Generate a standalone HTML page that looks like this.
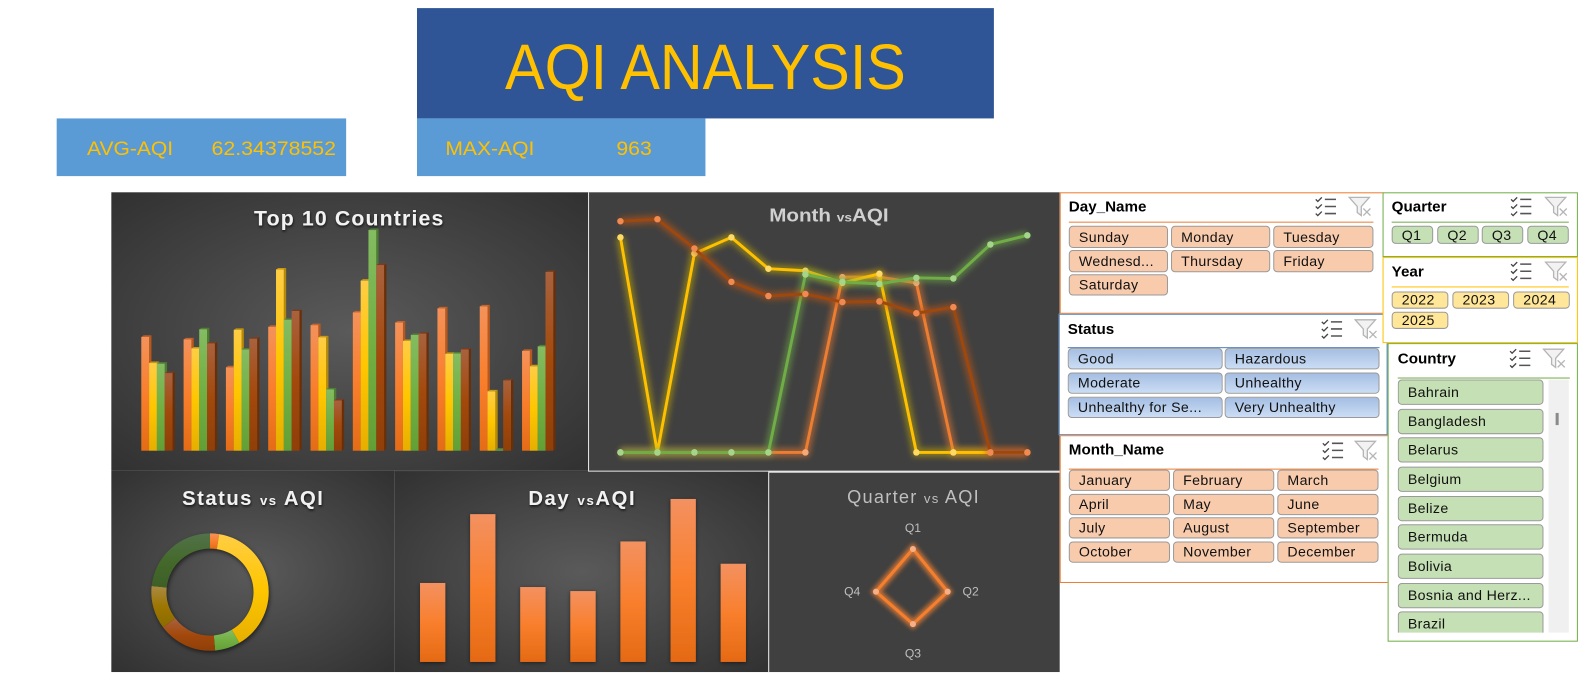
<!DOCTYPE html>
<html lang="en">
<head>
<meta charset="utf-8">
<title>AQI Analysis Dashboard</title>
<style>
html,body{margin:0;padding:0;background:#fff;width:1587px;height:682px;overflow:hidden;}
#root{position:relative;width:1568px;height:674px;overflow:hidden;background:#fff;font-family:"Liberation Sans",sans-serif;transform:scale(1.01212);transform-origin:0 0;}
#stage{position:absolute;left:0;top:0;}
.slicer{position:absolute;box-sizing:border-box;background:#fff;border:1px solid #ED7D31;}
.st{position:absolute;font-weight:bold;font-size:15px;line-height:16px;color:#000;white-space:nowrap;margin-top:1px;}
.ln{position:absolute;height:1px;}
.b{position:absolute;box-sizing:border-box;border:1px solid #9a9a9a;border-radius:4px;font-size:14px;letter-spacing:.35px;color:#111;padding-left:9px;white-space:nowrap;overflow:hidden;}
.o{background:#F8CBAD;}
.u{background:linear-gradient(#A5BEE2,#CBDDF5);}
.g{background:#C5E0B4;}
.y{background:#FFE699;}
.ic{position:absolute;width:24px;height:22px;}
</style>
</head>
<body>
<div id="root">
<svg id="stage" width="1568" height="674" viewBox="0 0 1568 674" xmlns="http://www.w3.org/2000/svg" font-family="'Liberation Sans',sans-serif">
  <defs id="defs">
    <radialGradient id="panelGrad" cx="50%" cy="50%" r="72%">
      <stop offset="0" stop-color="#5a5a5a"/><stop offset="1" stop-color="#303030"/>
    </radialGradient>
    <filter id="glow" x="0" y="0" width="1568" height="674" filterUnits="userSpaceOnUse"><feGaussianBlur stdDeviation="3"/></filter>
    <filter id="glowTight" x="0" y="0" width="1568" height="674" filterUnits="userSpaceOnUse"><feGaussianBlur stdDeviation="2"/></filter>
    <filter id="titleShadow" x="-10%" y="-30%" width="120%" height="170%"><feDropShadow dx="0.5" dy="1.5" stdDeviation="1.2" flood-color="#000" flood-opacity=".75"/></filter>
    <filter id="barShadow" x="-30%" y="-10%" width="160%" height="120%"><feDropShadow dx="0" dy="1" stdDeviation="2" flood-color="#000" flood-opacity=".5"/></filter>
  </defs>

  <rect x="412" y="8" width="570" height="109" fill="#2F5597"/>
  <text x="499" y="88" font-size="63" fill="#FFC000" textLength="396" lengthAdjust="spacingAndGlyphs">AQI ANALYSIS</text>

  <rect x="56" y="117" width="286" height="57" fill="#5B9BD5"/>
  <text x="86" y="153" font-size="19" fill="#FFC000" textLength="85" lengthAdjust="spacingAndGlyphs">AVG-AQI</text>
  <text x="209" y="153" font-size="19" fill="#FFC000" textLength="123" lengthAdjust="spacingAndGlyphs">62.34378552</text>

  <rect x="412" y="117" width="285" height="57" fill="#5B9BD5"/>
  <text x="440" y="153" font-size="19" fill="#FFC000" textLength="88" lengthAdjust="spacingAndGlyphs">MAX-AQI</text>
  <text x="609" y="153" font-size="19" fill="#FFC000" textLength="35" lengthAdjust="spacingAndGlyphs">963</text>

  <rect x="110" y="190" width="471" height="275" fill="url(#panelGrad)"/>
  <rect x="581" y="190" width="466" height="276" fill="#404040"/>
  <rect x="581" y="190" width="1" height="276" fill="#e6e6e6"/>
  <rect x="581" y="465" width="466" height="1.5" fill="#e6e6e6"/>
  <rect x="110" y="465" width="280" height="199" fill="url(#panelGrad)"/>
  <rect x="390" y="465" width="191" height="2" fill="#3a3a3a"/>
  <rect x="390" y="466" width="369" height="198" fill="url(#panelGrad)"/>
  <rect x="759" y="467" width="288" height="197" fill="#404040"/>
  <rect x="759" y="467" width="1" height="197" fill="#e6e6e6"/>

  <text x="251" y="223" font-size="21" font-weight="bold" fill="#f2f2f2" textLength="187" lengthAdjust="spacing" filter="url(#titleShadow)">Top 10 Countries</text>
  <text x="760" y="219" font-size="18" font-weight="bold" fill="#d0d0d0" textLength="118" lengthAdjust="spacingAndGlyphs">Month <tspan font-size="12">vs</tspan>AQI</text>
  <text x="180" y="499" font-size="20" font-weight="bold" fill="#f2f2f2" textLength="139" lengthAdjust="spacing" filter="url(#titleShadow)">Status <tspan font-size="13">vs</tspan> AQI</text>
  <text x="522" y="499" font-size="20" font-weight="bold" fill="#f2f2f2" textLength="105" lengthAdjust="spacing" filter="url(#titleShadow)">Day <tspan font-size="13">vs</tspan>AQI</text>
  <text x="837" y="497" font-size="18" fill="#bfbfbf" textLength="130" lengthAdjust="spacing">Quarter <tspan font-size="13">vs</tspan> AQI</text>

  <g id="countryChart"></g>
  <g id="monthChart"></g>
  <g id="statusChart"></g>
  <g id="dayChart"></g>
  <g id="quarterChart"></g>

  <symbol id="checkIcon" viewBox="0 0 24 22">
    <path d="M2 4l2 2 4-4M2 11l2 2 4-4M2 18l2 2 4-4" fill="none" stroke="#444" stroke-width="1.3"/>
    <path d="M11 4h11M11 11h11M11 18h11" stroke="#555" stroke-width="1.5"/>
  </symbol>
  <symbol id="filterIcon" viewBox="0 0 24 22">
    <path d="M1 2h20l-8 9v9l-4-3v-6z" fill="#f2f2f2" stroke="#b5b5b5" stroke-width="1.3"/>
    <path d="M15 13l7 7M22 13l-7 7" stroke="#b5b5b5" stroke-width="1.3"/>
  </symbol>
</svg>

<!-- Day_Name slicer -->
<div class="slicer" style="left:1047px;top:190px;width:320px;height:120px;border-color:#ED7D31"></div>
<div class="st" style="left:1056px;top:196px">Day_Name</div>
<div class="ln" style="left:1056px;top:219px;width:301px;background:#ED7D31"></div>
<svg class="ic" style="left:1298px;top:193px"><use href="#checkIcon"/></svg>
<svg class="ic" style="left:1332px;top:193px"><use href="#filterIcon"/></svg>
<div class="b o" style="left:1056px;top:223px;width:98px;height:22px;line-height:20px">Sunday</div>
<div class="b o" style="left:1157px;top:223px;width:98px;height:22px;line-height:20px">Monday</div>
<div class="b o" style="left:1258px;top:223px;width:99px;height:22px;line-height:20px">Tuesday</div>
<div class="b o" style="left:1056px;top:247px;width:98px;height:22px;line-height:20px">Wednesd...</div>
<div class="b o" style="left:1157px;top:247px;width:98px;height:22px;line-height:20px">Thursday</div>
<div class="b o" style="left:1258px;top:247px;width:99px;height:22px;line-height:20px">Friday</div>
<div class="b o" style="left:1056px;top:271px;width:98px;height:21px;line-height:19px">Saturday</div>

<!-- Status slicer -->
<div class="slicer" style="left:1046px;top:310px;width:325px;height:120px;border-color:#4F81BD"></div>
<div class="st" style="left:1055px;top:317px">Status</div>
<div class="ln" style="left:1055px;top:343px;width:308px;background:#4F81BD"></div>
<svg class="ic" style="left:1304px;top:314px"><use href="#checkIcon"/></svg>
<svg class="ic" style="left:1338px;top:314px"><use href="#filterIcon"/></svg>
<div class="b u" style="left:1055px;top:344px;width:153px;height:21px;line-height:19px">Good</div>
<div class="b u" style="left:1210px;top:344px;width:153px;height:21px;line-height:19px">Hazardous</div>
<div class="b u" style="left:1055px;top:368px;width:153px;height:21px;line-height:19px">Moderate</div>
<div class="b u" style="left:1210px;top:368px;width:153px;height:21px;line-height:19px">Unhealthy</div>
<div class="b u" style="left:1055px;top:392px;width:153px;height:21px;line-height:19px">Unhealthy for Se...</div>
<div class="b u" style="left:1210px;top:392px;width:153px;height:21px;line-height:19px">Very Unhealthy</div>

<!-- Month_Name slicer -->
<div class="slicer" style="left:1047px;top:430px;width:325px;height:146px;border-color:#ED7D31"></div>
<div class="st" style="left:1056px;top:436px">Month_Name</div>
<div class="ln" style="left:1056px;top:463px;width:306px;background:#ED7D31"></div>
<svg class="ic" style="left:1305px;top:434px"><use href="#checkIcon"/></svg>
<svg class="ic" style="left:1338px;top:434px"><use href="#filterIcon"/></svg>
<div class="b o" style="left:1056px;top:464px;width:100px;height:21px;line-height:19px">January</div>
<div class="b o" style="left:1159px;top:464px;width:100px;height:21px;line-height:19px">February</div>
<div class="b o" style="left:1262px;top:464px;width:100px;height:21px;line-height:19px">March</div>
<div class="b o" style="left:1056px;top:488px;width:100px;height:21px;line-height:19px">April</div>
<div class="b o" style="left:1159px;top:488px;width:100px;height:21px;line-height:19px">May</div>
<div class="b o" style="left:1262px;top:488px;width:100px;height:21px;line-height:19px">June</div>
<div class="b o" style="left:1056px;top:511px;width:100px;height:21px;line-height:19px">July</div>
<div class="b o" style="left:1159px;top:511px;width:100px;height:21px;line-height:19px">August</div>
<div class="b o" style="left:1262px;top:511px;width:100px;height:21px;line-height:19px">September</div>
<div class="b o" style="left:1056px;top:535px;width:100px;height:21px;line-height:19px">October</div>
<div class="b o" style="left:1159px;top:535px;width:100px;height:21px;line-height:19px">November</div>
<div class="b o" style="left:1262px;top:535px;width:100px;height:21px;line-height:19px">December</div>

<!-- Quarter slicer -->
<div class="slicer" style="left:1366px;top:190px;width:193px;height:64px;border-color:#70AD47"></div>
<div class="st" style="left:1375px;top:196px">Quarter</div>
<div class="ln" style="left:1375px;top:219px;width:175px;background:#70AD47"></div>
<svg class="ic" style="left:1491px;top:193px"><use href="#checkIcon"/></svg>
<svg class="ic" style="left:1526px;top:193px"><use href="#filterIcon"/></svg>
<div class="b g" style="left:1375px;top:223px;width:41px;height:18px;line-height:16px;padding-left:9px">Q1</div>
<div class="b g" style="left:1420px;top:223px;width:41px;height:18px;line-height:16px;padding-left:9px">Q2</div>
<div class="b g" style="left:1464px;top:223px;width:41px;height:18px;line-height:16px;padding-left:9px">Q3</div>
<div class="b g" style="left:1509px;top:223px;width:41px;height:18px;line-height:16px;padding-left:9px">Q4</div>

<!-- Year slicer -->
<div class="slicer" style="left:1366px;top:254px;width:193px;height:85px;border-color:#FFC000"></div>
<div class="st" style="left:1375px;top:260px">Year</div>
<div class="ln" style="left:1375px;top:283px;width:175px;background:#FFC000"></div>
<svg class="ic" style="left:1491px;top:257px"><use href="#checkIcon"/></svg>
<svg class="ic" style="left:1526px;top:257px"><use href="#filterIcon"/></svg>
<div class="b y" style="left:1375px;top:288px;width:56px;height:17px;line-height:15px">2022</div>
<div class="b y" style="left:1435px;top:288px;width:56px;height:17px;line-height:15px">2023</div>
<div class="b y" style="left:1495px;top:288px;width:56px;height:17px;line-height:15px">2024</div>
<div class="b y" style="left:1375px;top:308px;width:56px;height:17px;line-height:15px">2025</div>

<!-- Country slicer -->
<div class="slicer" style="left:1371px;top:339px;width:188px;height:295px;border-color:#70AD47"></div>
<div class="st" style="left:1381px;top:346px">Country</div>
<div class="ln" style="left:1381px;top:373px;width:170px;background:#70AD47"></div>
<svg class="ic" style="left:1490px;top:343px"><use href="#checkIcon"/></svg>
<svg class="ic" style="left:1524px;top:343px"><use href="#filterIcon"/></svg>
<div style="position:absolute;left:1381px;top:375px;width:146px;height:250px;overflow:hidden">
  <div class="b g" style="left:0;top:0;width:144px;height:25px;line-height:23px">Bahrain</div>
  <div class="b g" style="left:0;top:29px;width:144px;height:25px;line-height:23px">Bangladesh</div>
  <div class="b g" style="left:0;top:57px;width:144px;height:25px;line-height:23px">Belarus</div>
  <div class="b g" style="left:0;top:86px;width:144px;height:25px;line-height:23px">Belgium</div>
  <div class="b g" style="left:0;top:115px;width:144px;height:25px;line-height:23px">Belize</div>
  <div class="b g" style="left:0;top:143px;width:144px;height:25px;line-height:23px">Bermuda</div>
  <div class="b g" style="left:0;top:172px;width:144px;height:25px;line-height:23px">Bolivia</div>
  <div class="b g" style="left:0;top:201px;width:144px;height:25px;line-height:23px">Bosnia and Herz...</div>
  <div class="b g" style="left:0;top:229px;width:144px;height:25px;line-height:23px">Brazil</div>
</div>
<div style="position:absolute;left:1530px;top:375px;width:20px;height:250px;background:#f0f0f0"></div>
<div style="position:absolute;left:1537px;top:408px;width:3px;height:12px;background:#8a8a8a"></div>
</div>

<script>
// ---------- Top 10 Countries ----------
var countrySeriesA = [56.2, 55.0, 41.2, 61.2, 62.0, 68.3, 63.3, 70.3, 71.3, 49.3];
var countrySeriesB = [43.3, 50.5, 59.7, 89.5, 56.0, 84.0, 54.2, 47.8, 29.3, 41.7];
var countrySeriesC = [43.0, 60.0, 50.0, 64.7, 30.3, 109.0, 57.2, 48.0, 0.5, 51.5];
var countrySeriesD = [38.3, 53.0, 55.3, 69.0, 24.8, 91.7, 57.8, 50.0, 34.7, 88.3];
// ---------- Month vs AQI ----------
var monthLabels = ["Jan","Feb","Mar","Apr","May","Jun","Jul","Aug","Sep","Oct","Nov","Dec"];
var monthSeriesA = [0, 0, 0, 0, 0, 0, 52, 52, 50.3, 0, 0, 0];
var monthSeriesB = [63.8, 0, 59, 63.8, 54.5, 53.9, 50.3, 53, 0, 0, 0, null];
var monthSeriesC = [0, 0, 0, 0, 0, 52.8, 50.6, 50, 51.8, 51.6, 61.7, 64.4];
var monthSeriesD = [68.6, 69.2, 60.5, 50.6, 46.4, 47, 44.6, 44.8, 41.3, 43.1, 0, 0];
// ---------- Status vs AQI ----------
var statusLabels = ["Good","Hazardous","Moderate","Unhealthy","Unhealthy for Sensitive","Very Unhealthy"];
var statusValues = [9, 141, 25, 58, 43, 84];
// ---------- Day vs AQI ----------
var dayLabels = ["Sun","Mon","Tue","Wed","Thu","Fri","Sat"];
var dayValues = [78, 146, 74, 70, 119, 161, 97];
// ---------- Quarter vs AQI ----------
var quarterLabels = ["Q1","Q2","Q3","Q4"];
var quarterValues = [42.2, 34.3, 32, 36.5];

var NS = "http://www.w3.org/2000/svg";
function mk(parent, tag, attrs) {
  var el = document.createElementNS(NS, tag);
  for (var k in attrs) el.setAttribute(k, attrs[k]);
  parent.appendChild(el);
  return el;
}
var defs = document.getElementById("defs");
function vGrad(id, stops) {
  var g = mk(defs, "linearGradient", {id: id, x1: 0, y1: 0, x2: 0, y2: 1});
  stops.forEach(function (s) { mk(g, "stop", {offset: s[0], "stop-color": s[1]}); });
}
vGrad("gOrange", [[0, "#F4925A"], [0.5, "#F97F2D"], [1, "#E56C16"]]);
vGrad("gYellow", [[0, "#FFCD45"], [0.5, "#FFC600"], [1, "#E6AF00"]]);
vGrad("gGreen", [[0, "#84BC62"], [0.5, "#72B044"], [1, "#62A036"]]);
vGrad("gBrown", [[0, "#A9623E"], [0.5, "#A3490C"], [1, "#8F3F08"]]);
vGrad("gGold", [[0, "#AA8A45"], [0.5, "#9C7600"], [1, "#8C6A00"]]);
vGrad("gDkGreen", [[0, "#52724A"], [0.5, "#44692B"], [1, "#3D5F27"]]);
vGrad("gDay", [[0, "#F39160"], [0.5, "#F97F2D"], [1, "#E56A14"]]);

// Top 10 3D clustered bars
(function () {
  var g = document.getElementById("countryChart");
  var series = [countrySeriesA, countrySeriesB, countrySeriesC, countrySeriesD];
  var fills = ["url(#gOrange)", "url(#gYellow)", "url(#gGreen)", "url(#gBrown)"];
  var tops = ["#C8632B", "#C79A10", "#4F7F35", "#7A3E1E"];
  var sides = ["#B9581D", "#B58A08", "#4E7D31", "#6A2F08"];
  var baseY = 445.3, startX = 139.6, groupStep = 41.8, barW = 7.72, depth = 2.3, rise = 1.5;
  function yScale(v) { return baseY - v * 2; }
  function xScale(i, s) { return startX + i * groupStep + s * barW; }
  for (var i = 0; i < countrySeriesA.length; i++) {
    for (var s = 0; s < series.length; s++) {
      var x = xScale(i, s), y = yScale(series[s][i]), w = barW;
      var side = mk(g, "polygon", {points: [x + w, y, x + w + depth, y - rise, x + w + depth, baseY - rise, x + w, baseY].join(" "), fill: sides[s]});
      
      
      var top = mk(g, "polygon", {points: [x, y, x + depth, y - rise, x + w + depth, y - rise, x + w, y].join(" "), fill: tops[s]});
      
      
      var front = mk(g, "rect", {x: x, y: y, width: w, height: baseY - y, fill: fills[s]});
      
      
    }
  }
})();

// Month line chart
(function () {
  var g = document.getElementById("monthChart");
  var series = [monthSeriesA, monthSeriesB, monthSeriesC, monthSeriesD];
  var colors = ["#ED7D31", "#FFC000", "#70AD47", "#9E480E"];
  var glows = ["#ED7D31", "#C9B000", "#70AD47", "#C2550F"];
  var markers = ["#F5A878", "#FFD966", "#A5D58B", "#F08A50"];
  function x(i) { return 613 + i * 36.55; }
  function y(v) { return 447 - v * 3.33; }
  series.forEach(function (data, s) {
    var pts = [];
    data.forEach(function (v, i) { if (v !== null) pts.push(x(i).toFixed(1) + "," + y(v).toFixed(1)); });
    var halo = mk(g, "polyline", {points: pts.join(" "), fill: "none", stroke: glows[s], "stroke-width": 9, "stroke-opacity": 0.5, filter: "url(#glow)"});
    
    
    var line = mk(g, "polyline", {points: pts.join(" "), fill: "none", stroke: colors[s], "stroke-width": 2.9, "stroke-linejoin": "round"});
    
    
    data.forEach(function (v, i) {
      if (v === null) return;
      var p = mk(g, "circle", {cx: x(i), cy: y(v), r: 3.2, fill: markers[s]});
      
      
    });
  });
})();

// Status donut
(function () {
  var g = document.getElementById("statusChart");
  var fills = ["url(#gOrange)", "url(#gYellow)", "url(#gGreen)", "url(#gBrown)", "url(#gGold)", "url(#gDkGreen)"];
  var cx = 207.5, cy = 585, R = 58, r = 43;
  g.setAttribute("style", "filter:drop-shadow(1px 2px 2px rgba(0,0,0,.55))");
  var total = statusValues.reduce(function (a, b) { return a + b; }, 0);
  function pt(rad, a) { return (cx + rad * Math.sin(a)).toFixed(2) + " " + (cy - rad * Math.cos(a)).toFixed(2); }
  var acc = 0;
  statusValues.forEach(function (v, i) {
    var a0 = acc / total * 2 * Math.PI;
    acc += v;
    var a1 = acc / total * 2 * Math.PI;
    var large = a1 - a0 > Math.PI ? 1 : 0;
    var d = "M" + pt(R, a0) + " A" + R + " " + R + " 0 " + large + " 1 " + pt(R, a1) + " L" + pt(r, a1) + " A" + r + " " + r + " 0 " + large + " 0 " + pt(r, a0) + "Z";
    var seg = mk(g, "path", {d: d, fill: fills[i]});
    
    
  });
})();

// Day bars
(function () {
  var g = document.getElementById("dayChart");
  var baseY = 654;
  function x(i) { return 415 + i * 49.5; }
  function y(v) { return baseY - v; }
  dayValues.forEach(function (v, i) {
    var bar = mk(g, "rect", {x: x(i), y: y(v), width: 25, height: baseY - y(v), fill: "url(#gDay)", filter: "url(#barShadow)"});
    
    
  });
})();

// Quarter radar
(function () {
  var g = document.getElementById("quarterChart");
  var cx = 902, cy = 584.6, labelR = [63, 57, 61, 60];
  function pt(v, i) {
    var a = i * Math.PI / 2;
    return [cx + v * Math.sin(a), cy - v * Math.cos(a)];
  }
  var pts = quarterValues.map(function (v, i) { return pt(v, i).map(function (n) { return n.toFixed(1); }).join(","); }).join(" ");
  var halo = mk(g, "polygon", {points: pts, fill: "none", stroke: "#ED7D31", "stroke-width": 8, "stroke-opacity": 0.75, filter: "url(#glowTight)"});
  
  
  var line = mk(g, "polygon", {points: pts, fill: "none", stroke: "#F47F2E", "stroke-width": 3});
  
  
  quarterValues.forEach(function (v, i) {
    var p = pt(v, i);
    var c = mk(g, "circle", {cx: p[0], cy: p[1], r: 3, fill: "#F5B08A"});
    
    
    var l = pt(labelR[i], i);
    var t = mk(g, "text", {x: l[0], y: l[1] + 4, "font-size": 12, fill: "#bfbfbf", "text-anchor": "middle"});
    t.textContent = quarterLabels[i];
    
    
  });
})();
</script>
</body>
</html>
